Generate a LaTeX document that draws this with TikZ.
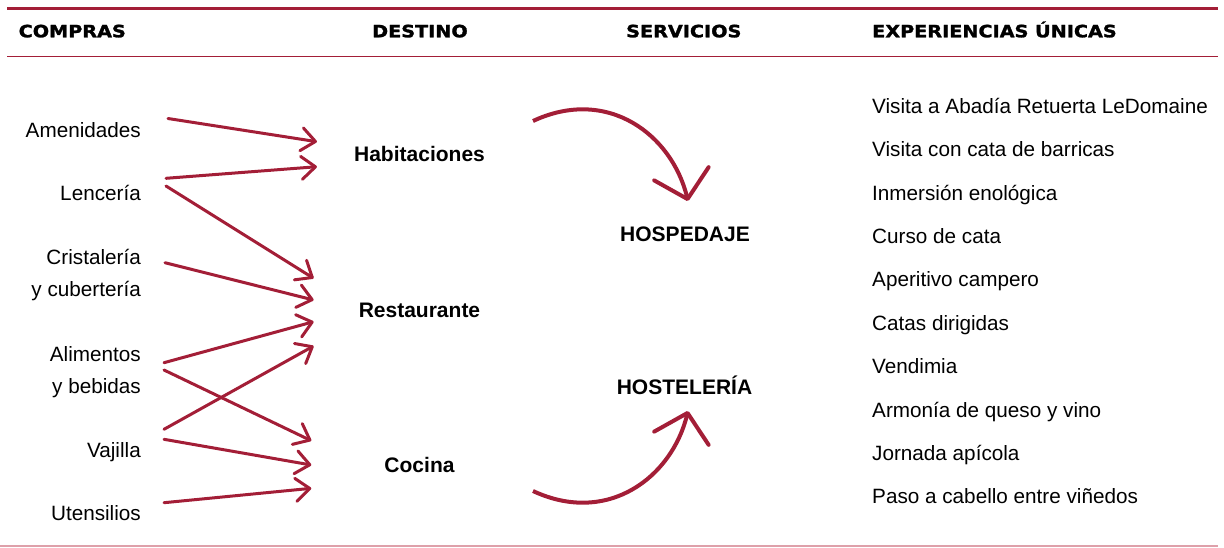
\documentclass[tikz,border=0pt]{standalone}
\usepackage{fontspec}
\usepackage{graphicx}
\setmainfont{Liberation Sans}
\newfontfamily\hdrfont{DejaVu Sans}[BoldFeatures={FakeBold=1.5}]
\newcommand\hdrtext[1]{\scalebox{1.13}[1]{#1}}
\usetikzlibrary{arrows.meta,calc}
\definecolor{winered}{RGB}{163,30,55}
\definecolor{rosa}{RGB}{222,160,170}
\begin{document}
\begin{tikzpicture}[x=1pt,y=-1pt,
 hdr/.style={inner sep=0pt,anchor=base west,font=\hdrfont\fontsize{17}{20}\selectfont\bfseries},
 item/.style={inner sep=0pt,anchor=base east,align=right,font=\fontsize{20.7}{31.5}\selectfont},
 exper/.style={inner sep=0pt,anchor=base west,font=\fontsize{20.7}{25}\selectfont},
 dest/.style={inner sep=0pt,anchor=base,font=\fontsize{21}{25}\selectfont\bfseries},
 arr/.style={draw=winered,line width=3pt,line cap=round,-{Straight Barb[length=14pt,width=23pt,round]}},
 carr/.style={draw=winered,line width=4pt,-{Straight Barb[length=26pt,width=56pt,round]}},
 rule/.style={draw=winered}]
\useasboundingbox (0,0) rectangle (1224,547);
% rules
\draw[rule,line width=3pt] (7,8.7) -- (1218,8.7);
\draw[rule,line width=1.5pt] (7,56.7) -- (1218,56.7);
\draw[draw=rosa,line width=1.5pt] (0,546) -- (1218,546);
% headers
\node[hdr] (hcompras) at (18.5,37.3) {\hdrtext{COMPRAS}};
\node[hdr] (hdestino) at (372,37.3) {\hdrtext{DESTINO}};
\node[hdr] (hserv) at (626,37.3) {\hdrtext{SERVICIOS}};
\node[hdr] (hexp) at (872,37.3) {\hdrtext{EXPERIENCIAS ÚNICAS}};
% compras (base anchor = baseline of last line)
\node[item] (amen) at (141,137) {Amenidades};
\node[item] (lenc) at (141,200) {Lencería};
\node[item] (crist) at (141,296) {Cristalería\\y cubertería};
\node[item] (alim) at (141,393) {Alimentos\\y bebidas};
\node[item] (vaj) at (141,457) {Vajilla};
\node[item] (uten) at (141,520) {Utensilios};
% destino
\node[dest] (hab) at (419.5,161.7) {Habitaciones};
\node[dest] (rest) at (419.5,317) {Restaurante};
\node[dest] (coc) at (419.5,472) {Cocina};
% servicios
\node[dest] (hosp) at (685,241.7) {HOSPEDAJE};
\node[dest] (host) at (684.5,394) {HOSTELERÍA};
% experiencias
\node[exper] (e1) at (872,113.3) {Visita a Abadía Retuerta LeDomaine};
\node[exper] (e2) at (872,156.7) {Visita con cata de barricas};
\node[exper] (e3) at (872,200.1) {Inmersión enológica};
\node[exper] (e4) at (872,243.5) {Curso de cata};
\node[exper] (e5) at (872,286.9) {Aperitivo campero};
\node[exper] (e6) at (872,330.3) {Catas dirigidas};
\node[exper] (e7) at (872,373.7) {Vendimia};
\node[exper] (e8) at (872,417.1) {Armonía de queso y vino};
\node[exper] (e9) at (872,460.5) {Jornada apícola};
\node[exper] (e10) at (872,503.9) {Paso a cabello entre viñedos};
% arrows compras -> destino
\draw[arr] ($(amen.base east)+(27,-18.5)$) -- ($(hab.base west)+(-37,-20)$);
\draw[arr] ($(lenc.base east)+(25,-21.7)$) -- ($(hab.base west)+(-37,5)$);
\draw[arr] ($(lenc.base east)+(25,-14)$) -- ($(rest.base west)+(-45,-38.7)$);
\draw[arr] ($(crist.base east)+(24,-33.3)$) -- ($(rest.base west)+(-45,-17)$);
\draw[arr] ($(alim.base east)+(23,-30.3)$) -- ($(rest.base west)+(-45,4.7)$);
\draw[arr] ($(alim.base east)+(23,-23)$) -- ($(coc.base west)+(-73,-31.3)$);
\draw[arr] ($(vaj.base east)+(23,-27.7)$) -- ($(rest.base west)+(-45,29)$);
\draw[arr] ($(vaj.base east)+(23,-17.7)$) -- ($(coc.base west)+(-73,-7)$);
\draw[arr] ($(uten.base east)+(23,-17.3)$) -- ($(coc.base west)+(-73,16.3)$);
% curved arrows
\coordinate (c1s) at (533,121);
\coordinate (c2s) at (533,491);
\draw[carr] (c1s) .. controls (608,86) and (672,135) .. ($(hosp.base)+(3,-40.7)$);
\draw[carr] (c2s) .. controls (608,526) and (672,477) .. ($(host.base)+(3.5,17)$);
\end{tikzpicture}
\end{document}
